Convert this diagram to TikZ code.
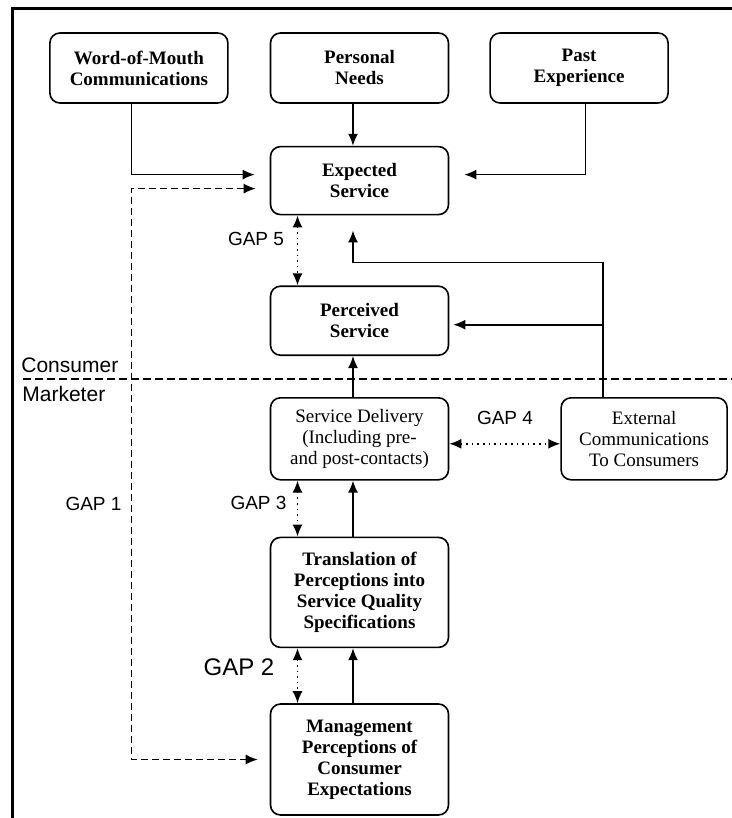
\documentclass[tikz,border=0pt]{standalone}
\usepackage{fontspec}
\setmainfont{Liberation Serif}
\setsansfont{Liberation Sans}
\usepackage{tikz}
\usetikzlibrary{arrows.meta, positioning}

\begin{document}
\begin{tikzpicture}[
    x=0.5pt, y=-0.5pt,
    node distance=20pt,
    box/.style={rectangle, rounded corners=5pt, draw=black, line width=0.8pt, fill=white, minimum width=89pt, align=center, inner sep=2pt, font=\fontsize{9.5}{10.5}\selectfont\bfseries},
    plainbox/.style={box, font=\fontsize{9.5}{10.5}\selectfont},
    arrow/.style={->, >={Latex[length=6pt,width=5pt]}, line width=0.8pt},
    gaparrow/.style={<->, >={Latex[length=6pt,width=5pt]}, line width=0.8pt, dotted},
    gapline/.style={<->, >={Latex[length=6pt,width=5pt]}, line width=0.7pt, dash pattern=on 3.5pt off 2pt},
    gaplabel/.style={font=\sffamily\fontsize{9.5}{11}\selectfont, inner sep=0pt},
    side/.style={font=\sffamily\fontsize{10.5}{12}\selectfont, inner sep=0pt, anchor=west},
    divider/.style={line width=0.7pt, dash pattern=on 4pt off 2pt}
]
\useasboundingbox (0,0) rectangle (732,818);

% Frame
\draw[line width=1.5pt] (12,818) -- (12,9) -- (732,9);

% Consumer side
\node[box, minimum height=35pt] (need) at (359.5,68) {Personal\\Needs};
\node[box, minimum height=35pt, left=20.5pt of need] (wom) {Word-of-Mouth\\Communications};
\node[box, minimum height=35pt, right=20pt of need] (past) {Past\\Experience};
\node[box, minimum height=34pt, below=21pt of need] (exp) {Expected\\Service};
\node[box, minimum height=34.5pt, below=35pt of exp] (perc) {Perceived\\Service};

% Marketer side
\node[plainbox, minimum height=41pt, below=20.5pt of perc] (deliv) {Service Delivery\\(Including pre-\\and post-contacts)};
\node[plainbox, minimum width=83pt, minimum height=41pt, right=55.5pt of deliv] (ext) {External\\Communications\\To Consumers};
\node[box, minimum height=55pt, below=28pt of deliv] (trans) {Translation of\\Perceptions into\\Service Quality\\Specifications};
\node[box, minimum height=55.5pt, below=27.5pt of trans] (mgmt) {Management\\Perceptions of\\Consumer\\Expectations};

% Consumer / Marketer divide
\draw[divider] (23,379) -- (732,379);
\node[side] (cons) at (21,365) {Consumer};
\node[side] (mark) at (22,394) {Marketer};

% Gap labels
\node[gaplabel] (gap5) at (256,239) {GAP 5};
\node[gaplabel] (gap4) at (505,418) {GAP 4};
\node[gaplabel] (gap3) at (258.5,503) {GAP 3};
\node[gaplabel] (gap1) at (93.5,504) {GAP 1};
\node[gaplabel, font=\sffamily\fontsize{12}{14}\selectfont] (gap2) at (239,667) {GAP 2};

% Influences on expected service
\draw[arrow, shorten >=7.5pt] ([xshift=-3.75pt]wom.south) |- ([yshift=3pt]exp.west);
\draw[arrow] ([xshift=-3.25pt]need.south) -- ([xshift=-3.25pt]exp.north);
\draw[arrow, shorten >=7.5pt] ([xshift=3.25pt]past.south) |- ([yshift=3pt]exp.east);

% External communications
\coordinate (extup) at ([xshift=-20.5pt]ext.north);
\coordinate (percin) at ([yshift=-2pt]perc.east);
\draw[arrow, shorten >=7.5pt] (extup) |- ([xshift=-3.25pt, yshift=-23.5pt]exp.south) -- ([xshift=-3.25pt]exp.south);
\draw[arrow, shorten >=2pt] (extup |- percin) -- (percin);

% Delivery chain
\draw[arrow] ([xshift=-3.25pt]deliv.north) -- ([xshift=-3.25pt]perc.south);
\draw[arrow] ([xshift=-3.25pt]trans.north) -- ([xshift=-3.25pt]deliv.south);
\draw[arrow] ([xshift=-3.25pt]mgmt.north) -- ([xshift=-3.25pt]trans.south);

% Gaps
\draw[gapline, shorten <=7pt, shorten >=6pt] ([yshift=-4pt]exp.west) -- ++(-69pt,0pt) |- (mgmt.west);
\draw[gaparrow] ([xshift=-31pt]exp.south) -- ([xshift=-31pt]perc.north);
\draw[gaparrow] ([yshift=-2.5pt]deliv.east) -- ([yshift=-2.5pt]ext.west);
\draw[gaparrow] ([xshift=-31pt]deliv.south) -- ([xshift=-31pt]trans.north);
\draw[gaparrow] ([xshift=-31pt]trans.south) -- ([xshift=-31pt]mgmt.north);

\end{tikzpicture}
\end{document}
